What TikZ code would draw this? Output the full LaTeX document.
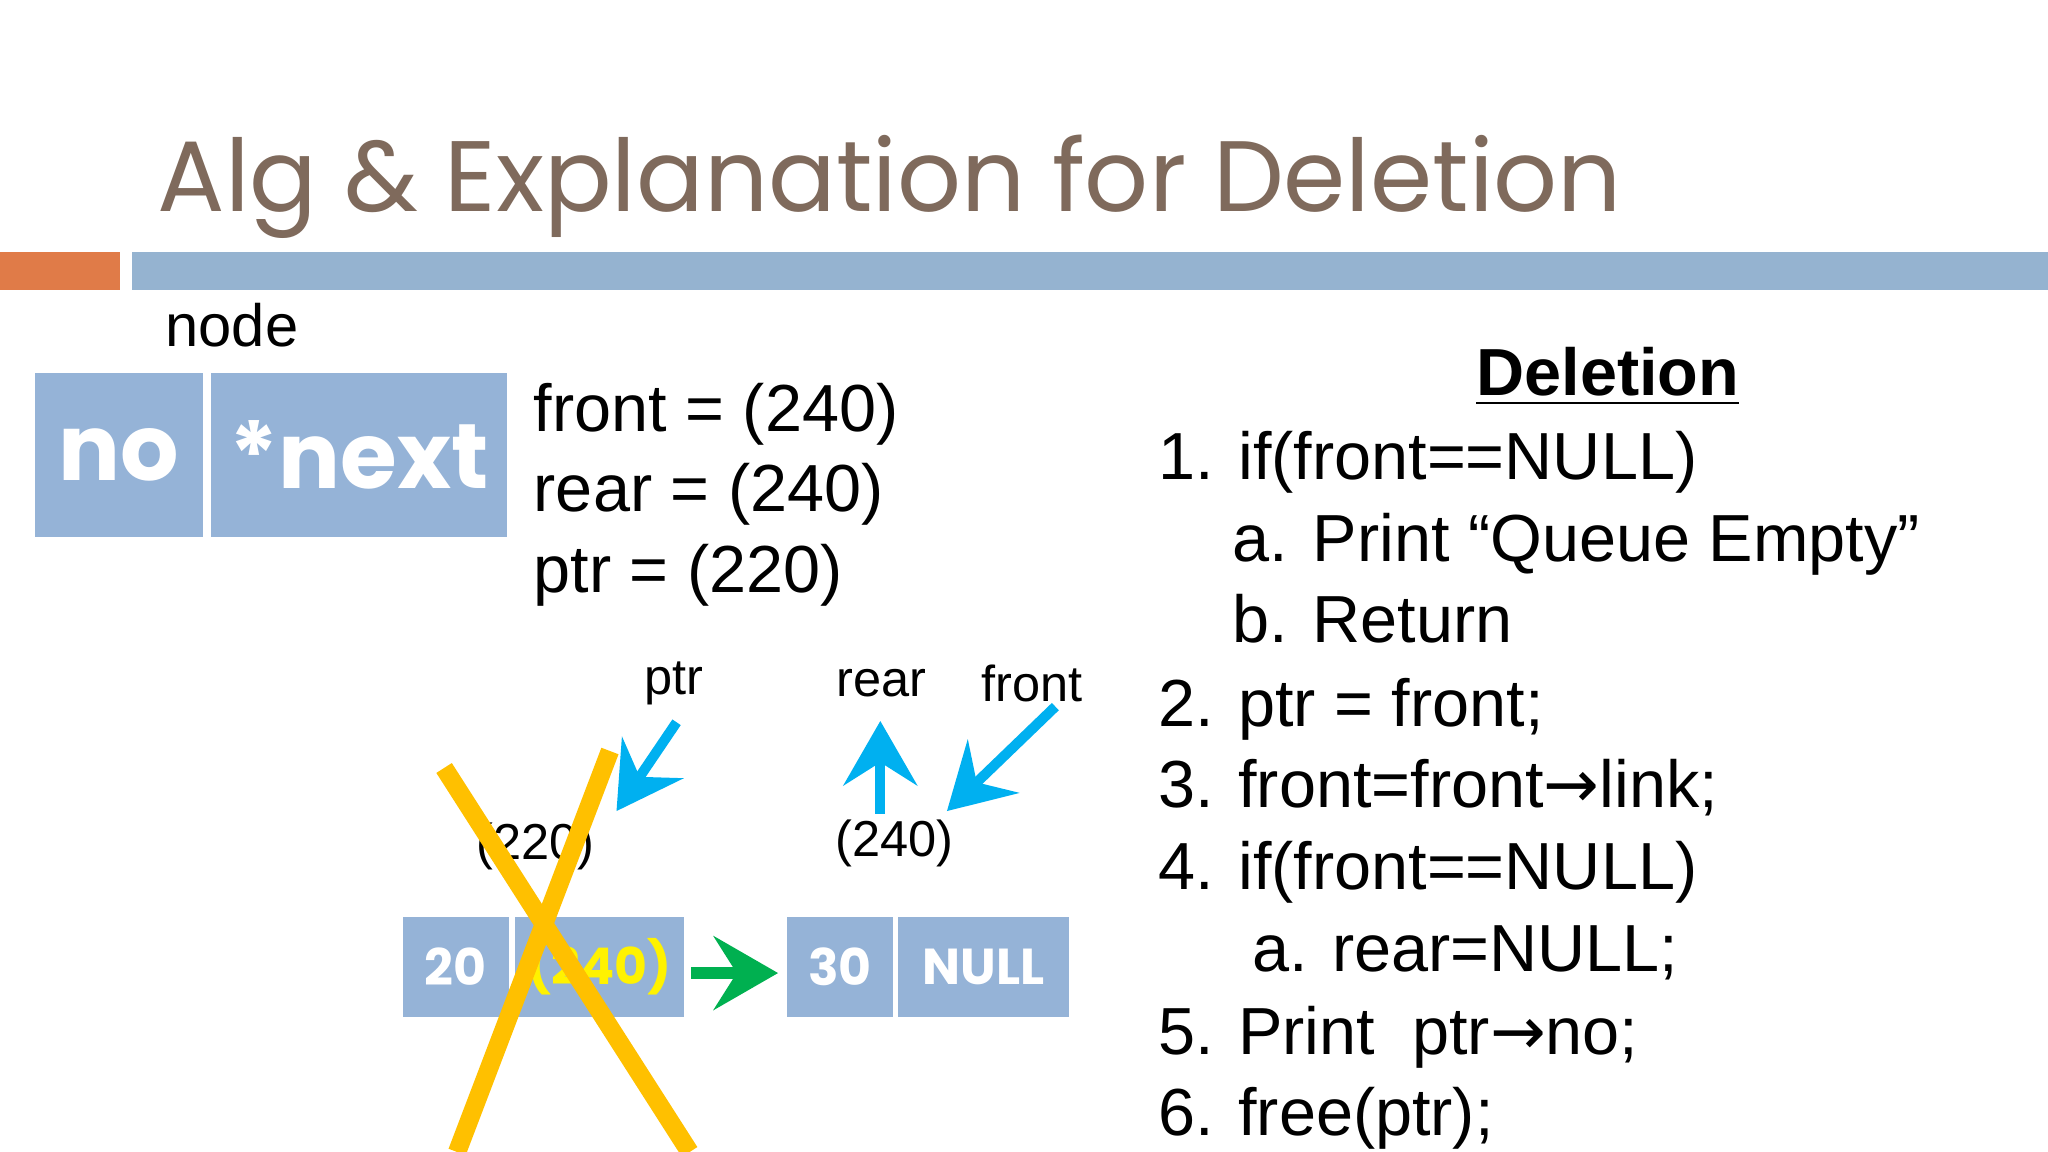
\documentclass[tikz,border=0pt]{standalone}
\usepackage{fontspec}
\setmainfont{Liberation Sans}
\newfontfamily\titlefont{Poppins}
\usetikzlibrary{arrows.meta,calc}
\definecolor{titlec}{HTML}{7F6A5C}
\definecolor{barblue}{HTML}{95B3D0}
\definecolor{barorange}{HTML}{E07B48}
\definecolor{cellc}{HTML}{95B3D7}
\definecolor{arrowblue}{HTML}{00B0F0}
\definecolor{xyellow}{HTML}{FFC000}
\definecolor{greenarr}{HTML}{00B050}
\begin{document}
\begin{tikzpicture}[x=0.01cm,y=-0.01cm,
  cell/.style={fill=cellc,draw=white,line width=1pt,text=white,inner sep=0,font=\titlefont\bfseries},
  code/.style={anchor=base west,font=\fontsize{14.5}{16}\selectfont,inner sep=0},
  blarr/.style={arrowblue,line width=2.2pt,-{Stealth[length=14pt,width=16pt,inset=5pt]}}]
\useasboundingbox (0,0) rectangle (1568,882);
\fill[white] (0,0) rectangle (1568,882);
\node[anchor=base west,inner sep=0,text=titlec,font=\titlefont\fontsize{21.8}{26}\selectfont] (title) at (120,162) {Alg \& Explanation for Deletion};
\fill[barorange] (0,193) rectangle (92,222);
\fill[barblue] (101,193) rectangle (1568,222);
\node[anchor=base west,inner sep=0,font=\fontsize{13}{15}\selectfont] (nodelbl) at (126,265) {node};
\node[cell,minimum width=1.32cm,minimum height=1.29cm,font=\titlefont\bfseries\fontsize{20}{22}\selectfont] (no) at (91,348) {no};
\node[cell,minimum width=2.30cm,minimum height=1.29cm,font=\titlefont\bfseries\fontsize{20}{22}\selectfont] (next) at (275,348) {*next};
\node[code] (f) at (408,330) {front = (240)};
\node[code] (r) at (408,392) {rear = (240)};
\node[code] (p) at (408,454) {ptr = (220)};
% algorithm
\node[anchor=base,inner sep=0,font=\bfseries\fontsize{14.5}{16}\selectfont] (del) at (1231,303) {\underline{Deletion}};
\node[code] (s1) at (886,367) {1. if(front==NULL)};
\node[code] (s1a) at (943,430) {a. Print “Queue Empty”};
\node[code] (s1b) at (943,492) {b. Return};
\node[code] (s2) at (886,556) {2. ptr = front;};
\node[code] (s3) at (886,618) {3. front=front{\fontspec{DejaVu Sans}→}link;};
\node[code] (s4) at (886,681) {4. if(front==NULL)};
\node[code] (s4a) at (958,744) {a. rear=NULL;};
\node[code] (s5) at (886,807) {5. Print\ \ ptr{\fontspec{DejaVu Sans}→}no;};
\node[code] (s6) at (886,869) {6. free(ptr);};
% bottom diagram
\node[cell,minimum width=0.85cm,minimum height=0.80cm,font=\titlefont\bfseries\fontsize{11}{13}\selectfont] (c20) at (349,740) {20};
\node[cell,minimum width=1.33cm,minimum height=0.80cm,text=yellow,font=\titlefont\bfseries\fontsize{11}{13}\selectfont] (c240) at (459,740) {(240)};
\node[cell,minimum width=0.85cm,minimum height=0.80cm,font=\titlefont\bfseries\fontsize{11}{13}\selectfont] (c30) at (643,740) {30};
\node[cell,minimum width=1.35cm,minimum height=0.80cm,font=\titlefont\bfseries\fontsize{11}{13}\selectfont] (cnull) at (753,740) {NULL};
\draw[greenarr,line width=2.5pt,-{Stealth[length=14pt,width=16pt,inset=5pt]}] ($(c240.east)+(2,5)$) -- ($(c30.west)+(-3,5)$);
\node[font=\fontsize{11}{13}\selectfont] (lptr) at (516,523) {ptr};
\node[font=\fontsize{11}{13}\selectfont] (lrear) at (675,523) {rear};
\node[font=\fontsize{11}{13}\selectfont] (lfront) at (790,523) {front};
\node[font=\fontsize{11}{13}\selectfont] (a220) at (410,648) {(220)};
\node[font=\fontsize{11}{13}\selectfont] (a240) at (685,646) {(240)};
\coordinate (p1) at (518,553); \coordinate (p2) at (472,621);
\coordinate (r1) at (674,623); \coordinate (r2) at (674,552);
\coordinate (f1) at (808,541); \coordinate (f2) at (725,621);
\draw[blarr] (p1) -- (p2);
\draw[blarr] (r1) -- (r2);
\draw[blarr] (f1) -- (f2);
\coordinate (x1) at (340,588); \coordinate (x2) at (528,882);
\coordinate (x3) at (467,575); \coordinate (x4) at (350,882);
\draw[xyellow,line width=4pt] (x1) -- (x2);
\draw[xyellow,line width=4pt] (x3) -- (x4);
\end{tikzpicture}
\end{document}
